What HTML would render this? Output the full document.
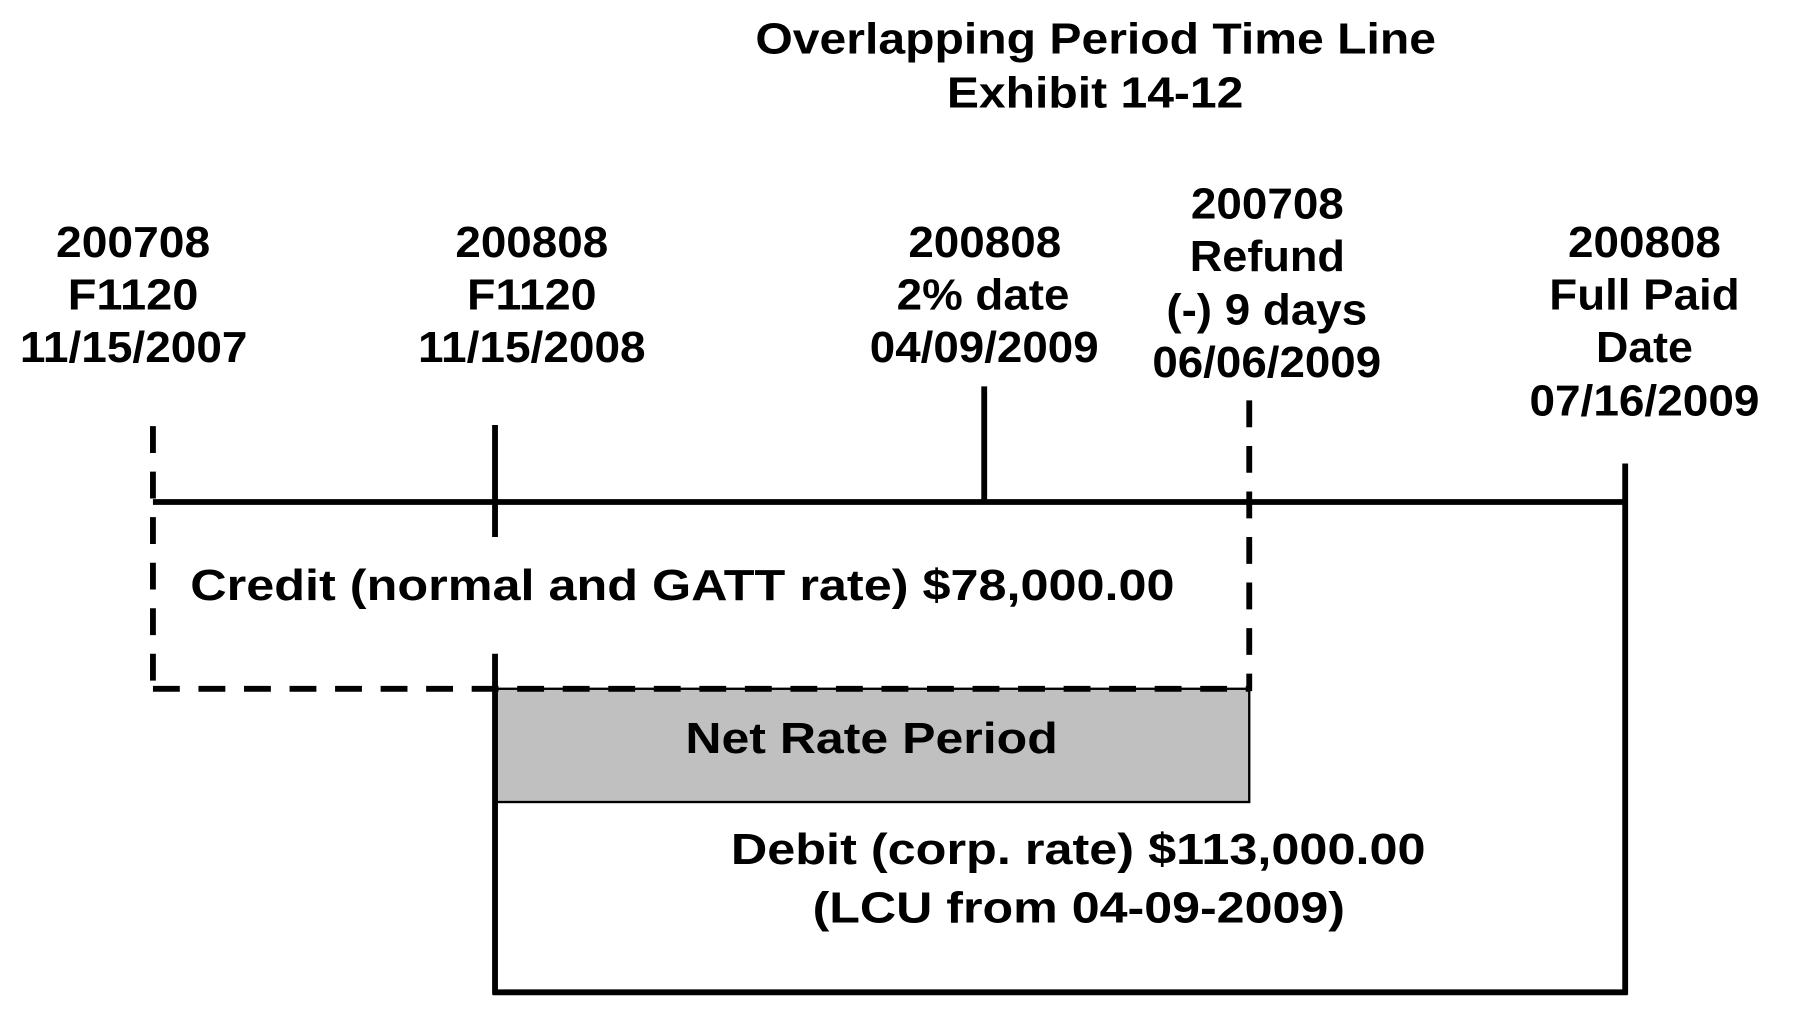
<!DOCTYPE html>
<html><head><style>
html,body{margin:0;padding:0;background:#fff;}
svg{display:block;}
text{font-family:"Liberation Sans",Arial,sans-serif;font-weight:bold;font-size:37px;fill:#000;}
</style></head><body>
<svg width="1819" height="1032" viewBox="0 0 1558 884" preserveAspectRatio="none">
<g lengthAdjust="spacingAndGlyphs">
<text x="647" y="46" textLength="583" lengthAdjust="spacingAndGlyphs">Overlapping Period Time Line</text>
<text x="811" y="92" textLength="254" lengthAdjust="spacingAndGlyphs">Exhibit 14-12</text>
<text x="48" y="220" textLength="132" lengthAdjust="spacingAndGlyphs">200708</text>
<text x="58" y="265" textLength="112" lengthAdjust="spacingAndGlyphs">F1120</text>
<text x="17" y="310" textLength="195" lengthAdjust="spacingAndGlyphs">11/15/2007</text>
<text x="390" y="220" textLength="131" lengthAdjust="spacingAndGlyphs">200808</text>
<text x="400" y="265" textLength="111" lengthAdjust="spacingAndGlyphs">F1120</text>
<text x="358" y="310" textLength="195" lengthAdjust="spacingAndGlyphs">11/15/2008</text>
<text x="778" y="220" textLength="131" lengthAdjust="spacingAndGlyphs">200808</text>
<text x="768" y="265" textLength="148" lengthAdjust="spacingAndGlyphs">2% date</text>
<text x="745" y="310" textLength="196" lengthAdjust="spacingAndGlyphs">04/09/2009</text>
<text x="1020" y="187" textLength="131" lengthAdjust="spacingAndGlyphs">200708</text>
<text x="1019" y="232" textLength="133" lengthAdjust="spacingAndGlyphs">Refund</text>
<text x="999" y="278" textLength="172" lengthAdjust="spacingAndGlyphs">(-) 9 days</text>
<text x="987" y="323" textLength="196" lengthAdjust="spacingAndGlyphs">06/06/2009</text>
<text x="1343" y="220" textLength="131" lengthAdjust="spacingAndGlyphs">200808</text>
<text x="1327" y="265" textLength="163" lengthAdjust="spacingAndGlyphs">Full Paid</text>
<text x="1367" y="310" textLength="83" lengthAdjust="spacingAndGlyphs">Date</text>
<text x="1310" y="356" textLength="197" lengthAdjust="spacingAndGlyphs">07/16/2009</text>
</g>
<rect x="424" y="590" width="646" height="97" fill="#c0c0c0" stroke="#000" stroke-width="2"/>
<g stroke="#000" stroke-width="5" fill="none">
<line x1="131" y1="430" x2="1392" y2="430"/>
<line x1="424" y1="364" x2="424" y2="460"/>
<line x1="843" y1="331" x2="843" y2="430"/>
<line x1="1392" y1="397" x2="1392" y2="852"/>
<line x1="424" y1="560" x2="424" y2="852"/>
<line x1="422" y1="850" x2="1394" y2="850"/>
<g stroke-dasharray="23,16">
<line x1="131" y1="365" x2="131" y2="592"/>
<line x1="131" y1="590" x2="1070" y2="590"/>
<line x1="1070" y1="343" x2="1070" y2="592"/>
</g>
</g>
<text x="163" y="514" textLength="843" lengthAdjust="spacingAndGlyphs">Credit (normal and GATT rate) $78,000.00</text>
<text x="587" y="645" textLength="319" lengthAdjust="spacingAndGlyphs">Net Rate Period</text>
<text x="626" y="740" textLength="595" lengthAdjust="spacingAndGlyphs">Debit (corp. rate) $113,000.00</text>
<text x="696" y="790" textLength="456" lengthAdjust="spacingAndGlyphs">(LCU from 04-09-2009)</text>
</svg>
</body></html>
